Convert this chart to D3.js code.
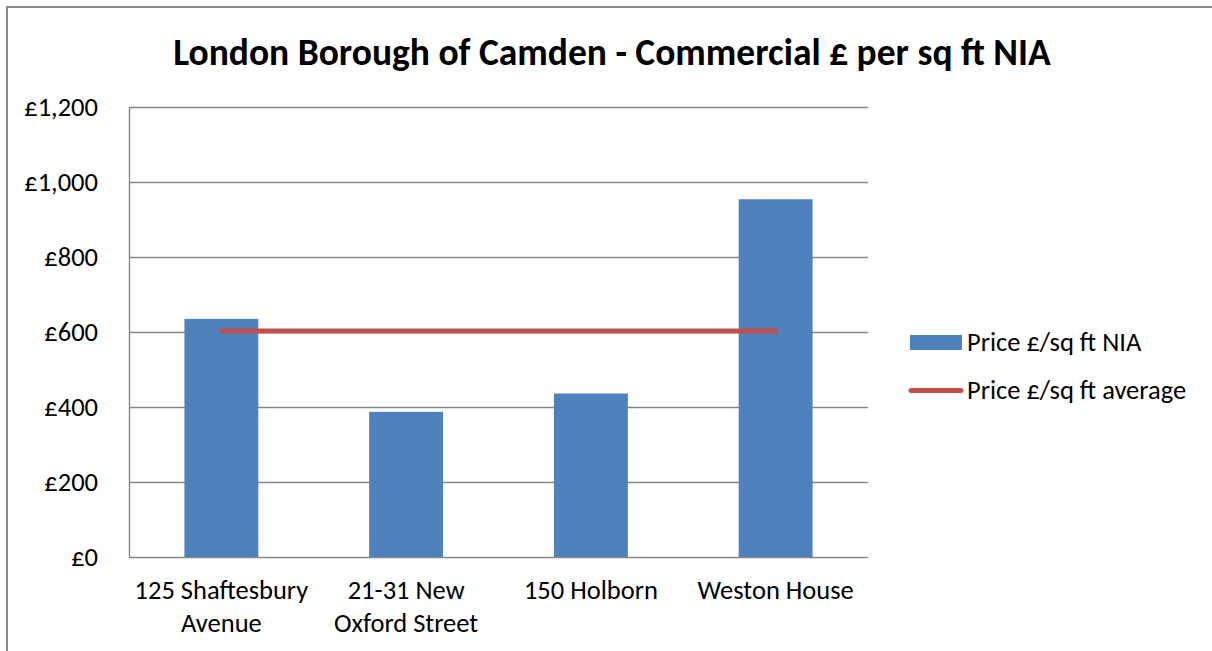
<!DOCTYPE html>
<html>
<head>
<meta charset="utf-8">
<script src="https://cdn.jsdelivr.net/npm/d3@7"></script>
<style>
  html, body { margin: 0; padding: 0; background: #fff; }
  svg { display: block; }
  text { font-family: Carlito, Lato, "Open Sans", sans-serif; fill: #000; }
</style>
</head>
<body>
<svg id="chart" width="1212" height="651"></svg>
<script>
// Data
const categories = [["125 Shaftesbury", "Avenue"], ["21-31 New", "Oxford Street"], ["150 Holborn"], ["Weston House"]];
const priceNIA = [635, 387, 436, 954];
const priceAverage = [603, 603, 603, 603];
const yTicks = [0, 200, 400, 600, 800, 1000, 1200];
const seriesNames = ["Price £/sq ft NIA", "Price £/sq ft average"];
const title = "London Borough of Camden - Commercial £ per sq ft NIA";

const svg = d3.select("#chart");
const W = 1212, H = 651;
const plot = { left: 129, right: 868, top: 107, bottom: 557 };
const labelSize = 26.5;

const barColor = "#4F81BD";
const lineColor = "#C0504D";
const gridColor = "#868686";

// Chart frame (top and left edges visible)
svg.append("path")
  .attr("d", `M7,${H + 5} L7,7 L${W + 5},7`)
  .attr("fill", "none")
  .attr("stroke", "#8c8c8c")
  .attr("stroke-width", 2);

// Title
svg.append("text")
  .attr("x", 612)
  .attr("y", 65)
  .attr("text-anchor", "middle")
  .attr("font-weight", "bold")
  .attr("font-size", 37.5)
  .text(title);

// Scales
const idx = categories.map((d, i) => i);
const x = d3.scaleBand().domain(idx).range([plot.left, plot.right]).paddingInner(0.6).paddingOuter(0.3);
const xc = d3.scaleBand().domain(idx).range([plot.left, plot.right]);
const y = d3.scaleLinear().domain([0, 1200]).range([plot.bottom, plot.top]);

// Gridlines
svg.append("g")
  .selectAll("line")
  .data(yTicks)
  .join("line")
  .attr("x1", plot.left)
  .attr("x2", plot.right)
  .attr("y1", d => Math.round(y(d)) + 0.5)
  .attr("y2", d => Math.round(y(d)) + 0.5)
  .attr("stroke", gridColor)
  .attr("stroke-width", 1.4);

// Y axis
const yAxis = svg.append("g")
  .attr("transform", `translate(${plot.left},0)`)
  .call(d3.axisLeft(y).tickValues(yTicks).tickSize(0).tickPadding(31)
    .tickFormat(d => "£" + d3.format(",")(d)));
yAxis.select(".domain").attr("stroke", gridColor).attr("stroke-width", 1.4);
yAxis.selectAll("text").attr("font-size", labelSize).attr("fill", "#000")
  .style("font-family", "Carlito, Lato, 'Open Sans', sans-serif");

// Bars
svg.append("g")
  .selectAll("rect")
  .data(priceNIA)
  .join("rect")
  .attr("x", (d, i) => x(i))
  .attr("width", x.bandwidth())
  .attr("y", d => y(d))
  .attr("height", d => y(0) - y(d))
  .attr("fill", barColor);

// Average line
const line = d3.line()
  .x((d, i) => xc(i) + xc.bandwidth() / 2)
  .y(d => y(d));
svg.append("path")
  .datum(priceAverage)
  .attr("d", line)
  .attr("fill", "none")
  .attr("stroke", lineColor)
  .attr("stroke-width", 5)
  .attr("stroke-linecap", "round");

// Category labels
const cat = svg.append("g");
categories.forEach((lines, i) => {
  const t = cat.append("text")
    .attr("x", xc(i) + xc.bandwidth() / 2)
    .attr("y", 599)
    .attr("text-anchor", "middle")
    .attr("font-size", labelSize);
  lines.forEach((l, j) => {
    t.append("tspan")
      .attr("x", xc(i) + xc.bandwidth() / 2)
      .attr("dy", j === 0 ? 0 : 33)
      .text(l);
  });
});

// Legend
const legend = svg.append("g");
legend.append("rect")
  .attr("x", 910).attr("y", 335).attr("width", 52).attr("height", 15)
  .attr("fill", barColor);
legend.append("line")
  .attr("x1", 911).attr("x2", 961).attr("y1", 390.5).attr("y2", 390.5)
  .attr("stroke", lineColor).attr("stroke-width", 5).attr("stroke-linecap", "round");
legend.selectAll("text.leg")
  .data(seriesNames)
  .join("text")
  .attr("class", "leg")
  .attr("x", 967)
  .attr("y", (d, i) => 351 + i * 48)
  .attr("font-size", labelSize)
  .text(d => d);
</script>
</body>
</html>
